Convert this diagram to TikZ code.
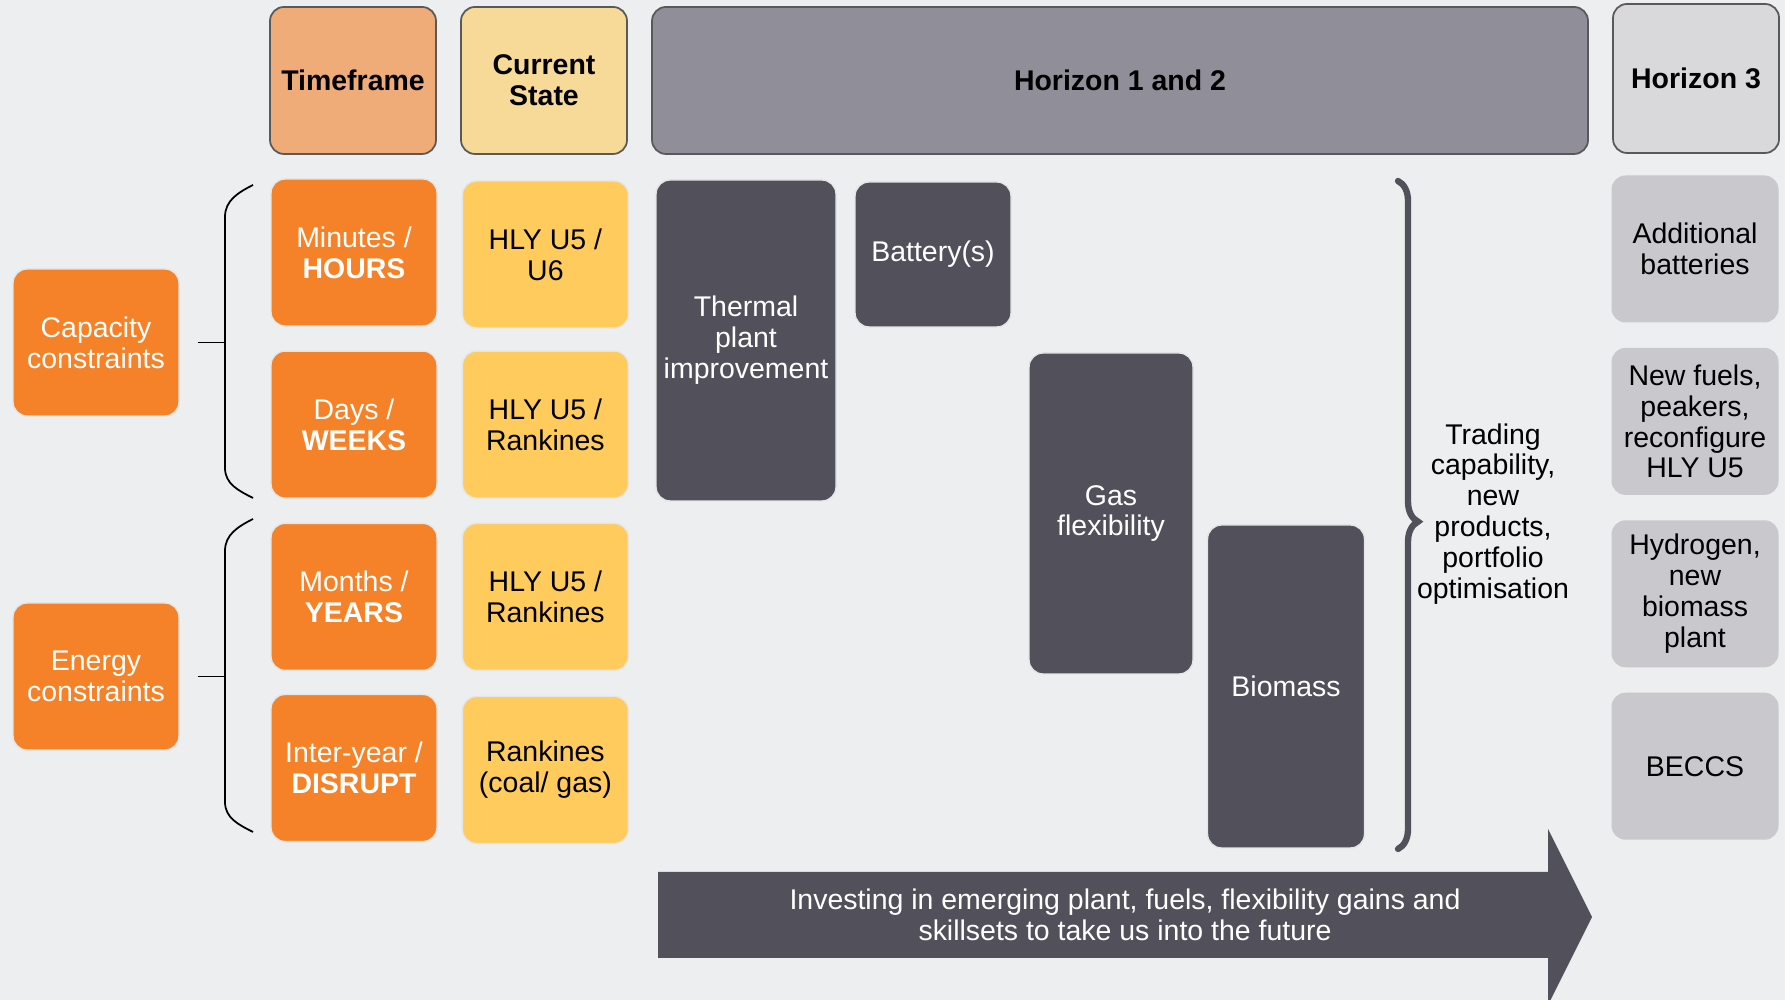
\documentclass[tikz,border=0pt]{standalone}
\usepackage{fontspec}
\setmainfont{Liberation Sans}
\usetikzlibrary{positioning,decorations.pathreplacing}

\definecolor{bgcol}{HTML}{EDEEF0}
\definecolor{torange}{HTML}{F58229}
\definecolor{tyellow}{HTML}{FECB5C}
\definecolor{hdorange}{HTML}{F0AC78}
\definecolor{hdyellow}{HTML}{F7DA98}
\definecolor{hdgrey}{HTML}{908E98}
\definecolor{hdlight}{HTML}{D9D9DB}
\definecolor{tdark}{HTML}{52515B}
\definecolor{tlight}{HTML}{C9C8CC}

\tikzset{
  tile/.style={rounded corners=0.14cm, align=center, inner sep=0pt,
    font=\fontsize{8.1}{8.8}\selectfont},
  headbox/.style={tile, draw=black!65, line width=0.5pt, minimum height=1.47cm,
    font=\fontsize{8.1}{8.8}\selectfont\bfseries},
  timebox/.style={tile, fill=torange, text=white, draw=black!10,
    minimum width=1.66cm, minimum height=1.47cm},
  statebox/.style={tile, fill=tyellow, draw=black!10,
    minimum width=1.66cm, minimum height=1.47cm},
  planbox/.style={tile, fill=tdark, text=white, draw=black!10},
  futurebox/.style={tile, fill=tlight, minimum width=1.67cm, minimum height=1.47cm},
}

\begin{document}
\begin{tikzpicture}
  \fill[bgcol] (0,0) rectangle (17.85,10);
  \useasboundingbox (0,0) rectangle (17.85,10);

  % headers
  \node [headbox, fill=hdorange, minimum width=1.66cm](tf) at (3.53,9.195) {Timeframe};
  \node [headbox, fill=hdyellow, minimum width=1.66cm](cs) at (5.44,9.195) {Current\\State};
  \node [headbox, fill=hdgrey, minimum width=9.36cm](hz) at (11.20,9.195) {Horizon 1 and 2};
  \node [headbox, fill=hdlight, minimum width=1.66cm, minimum height=1.49cm](hzz) at (16.96,9.215) {Horizon 3};

  % timeframe column
  \node [timebox](hours) at (3.54,7.475) {Minutes /\\\textbf{HOURS}};
  \node [timebox, below = 0.237cm of hours](weeks) {Days /\\\textbf{WEEKS}};
  \node [timebox, below = 0.239cm of weeks](years) {Months /\\\textbf{YEARS}};
  \node [timebox, below = 0.227cm of years](disrupt) {Inter-year /\\\textbf{DISRUPT}};

  % current state column
  \node [statebox, right = 0.24cm of hours, yshift=-0.02cm](u6) {HLY U5 /\\U6};
  \node [statebox, right = 0.24cm of weeks](rk) {HLY U5 /\\Rankines};
  \node [statebox, right = 0.24cm of years](rkk) {HLY U5 /\\Rankines};
  \node [statebox, right = 0.24cm of disrupt, yshift=-0.02cm](coal) {Rankines\\(coal/ gas)};

  \node [timebox](cap) at (0.96,6.575) {Capacity\\constraints};
  \node [timebox](ener) at (0.96,3.235) {Energy\\constraints};

  % brackets
  \draw [line width=0.5pt] (2.53,8.15) to[out=207, in=90] (2.25,7.83) -- (2.25,5.32) to[out=-90, in=153] (2.53,5.02);
  \draw [line width=0.5pt] (2.53,4.81) to[out=207, in=90] (2.25,4.49) -- (2.25,1.98) to[out=-90, in=153] (2.53,1.68);
  \draw [line width=0.5pt] ([xshift=0.18cm]cap.east) -- ++(0.28,0);
  \draw [line width=0.5pt] ([xshift=0.18cm]ener.east) -- ++(0.28,0);

  % horizon 1 and 2
  \node [planbox, minimum width=1.80cm, minimum height=3.21cm](therm) at (7.46,6.595) {Thermal\\plant\\improvement};
  \node [planbox, minimum width=1.56cm, minimum height=1.45cm](batt) at (9.33,7.455) {Battery(s)};
  \node [planbox, minimum width=1.64cm, minimum height=3.21cm](gas) at (11.11,4.865) {Gas\\flexibility};
  \node [planbox, minimum width=1.57cm, minimum height=3.23cm](bio) at (12.86,3.135) {Biomass};

  \draw [decorate, decoration={brace, amplitude=0.2cm, aspect=0.51}, draw=tdark,
    line width=1.8pt, line cap=round] (13.98,8.19) -- (13.98,1.51);
  \node [align=center, font=\fontsize{8.1}{8.8}\selectfont](trade) at (14.93,4.86)
    {Trading\\capability,\\new\\products,\\portfolio\\optimisation};

  % horizon 3
  \node [futurebox](addb) at (16.95,7.51) {Additional\\batteries};
  \node [futurebox, below = 0.24cm of addb](fuel) {New fuels,\\peakers,\\reconfigure\\HLY U5};
  \node [futurebox, below = 0.24cm of fuel](hyd) {Hydrogen,\\new\\biomass\\plant};
  \node [futurebox, below = 0.24cm of hyd](beccs) {BECCS};

  % arrow
  \fill [tdark] (6.58,1.28) -- (15.48,1.28) -- (15.48,1.71) -- (15.92,0.83)
    -- (15.48,-0.05) -- (15.48,0.42) -- (6.58,0.42) -- cycle;
  \node [align=center, text=white, font=\fontsize{8.1}{8.8}\selectfont](invest) at (11.25,0.85)
    {Investing in emerging plant, fuels, flexibility gains and\\skillsets to take us into the future};
\end{tikzpicture}
\end{document}
